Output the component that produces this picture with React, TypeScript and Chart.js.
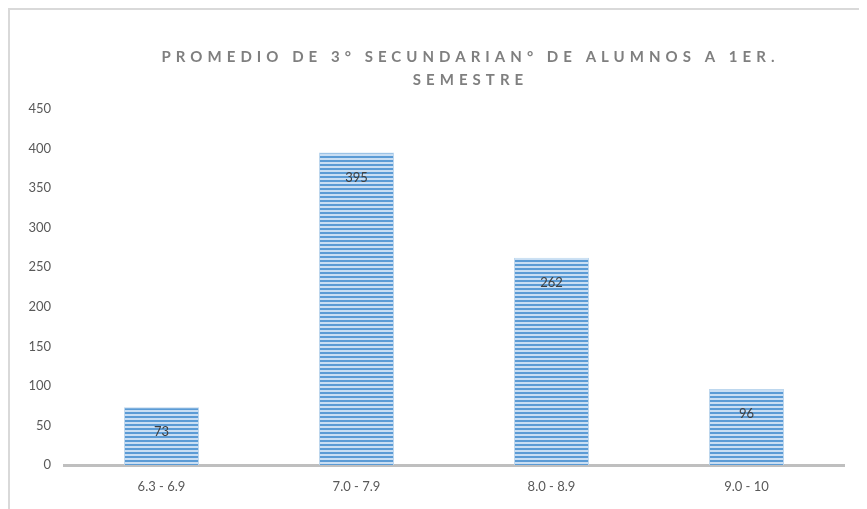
import React, { useEffect, useRef } from "react";
import { Chart, registerables } from "chart.js";

Chart.register(...registerables);

const categories = ["6.3 - 6.9", "7.0 - 7.9", "8.0 - 8.9", "9.0 - 10"];
const values = [73, 395, 262, 96];
const titleLines = ["PROMEDIO DE 3° SECUNDARIAN° DE ALUMNOS A 1ER.", "SEMESTRE"];
const yMax = 450;
const yStep = 50;

const FONT = "Lato, 'Open Sans', 'Liberation Sans', sans-serif";

function makePattern(): CanvasPattern | string {
  const c = document.createElement("canvas");
  c.width = 4;
  c.height = 4;
  const ctx = c.getContext("2d");
  if (!ctx) return "#5b9bd5";
  ctx.fillStyle = "#c9def3";
  ctx.fillRect(0, 0, 4, 4);
  ctx.fillStyle = "#5b9bd5";
  ctx.fillRect(0, 0, 4, 2);
  return ctx.createPattern(c, "repeat") || "#5b9bd5";
}

const framePlugin = {
  id: "frame",
  beforeDraw(chart: any) {
    const { ctx } = chart;
    ctx.save();
    ctx.fillStyle = "#d9d9d9";
    ctx.fillRect(0, 0, chart.width, 2);
    ctx.fillRect(0, 0, 2, chart.height);
    ctx.restore();
  },
};

const titlePlugin = {
  id: "spacedTitle",
  afterDraw(chart: any) {
    const { ctx } = chart;
    ctx.save();
    ctx.font = `bold 15px ${FONT}`;
    ctx.fillStyle = "#7f7f7f";
    ctx.textBaseline = "middle";
    ctx.textAlign = "left";
    const cx = (chart.chartArea.left + chart.chartArea.right) / 2 + 14;
    (ctx as any).letterSpacing = "0px";
    const first = titleLines[0];
    const w0 = ctx.measureText(first).width;
    const spacing = Math.max(0, (613 - w0) / (first.length - 1));
    (ctx as any).letterSpacing = `${spacing}px`;
    titleLines.forEach((line, i) => {
      const w = ctx.measureText(line).width - spacing;
      ctx.fillText(line, cx - w / 2, 49 + i * 23);
    });
    ctx.restore();
  },
};

const labelPlugin = {
  id: "barLabels",
  afterDatasetsDraw(chart: any) {
    const { ctx } = chart;
    const meta = chart.getDatasetMeta(0);
    ctx.save();
    ctx.font = `13px ${FONT}`;
    ctx.fillStyle = "#404040";
    ctx.textAlign = "center";
    ctx.textBaseline = "middle";
    meta.data.forEach((bar: any, i: number) => {
      ctx.fillText(String(values[i]), bar.x, bar.y + 25);
    });
    ctx.restore();
  },
};

export default function App() {
  const ref = useRef<HTMLCanvasElement>(null);
  useEffect(() => {
    if (!ref.current) return;
    const chart = new Chart(ref.current, {
      type: "bar",
      data: {
        labels: categories,
        datasets: [
          {
            data: values,
            backgroundColor: makePattern() as any,
            borderColor: "#bdd7ee",
            borderWidth: { left: 1, right: 1, top: 1, bottom: 0 } as any,
            borderSkipped: false,
            categoryPercentage: 1,
            barPercentage: 0.385,
          },
        ],
      },
      options: {
        responsive: false,
        animation: false,
        maintainAspectRatio: false,
        layout: { padding: { left: 0, right: 23, top: 101, bottom: 0 } },
        plugins: {
          legend: { display: false },
          tooltip: { enabled: false },
          title: { display: false },
        },
        scales: {
          x: {
            grid: { display: false, drawTicks: false },
            border: { display: true, color: "#bfbfbf", width: 3 },
            ticks: { color: "#595959", font: { family: FONT, size: 13 }, padding: 14 },
            afterFit: (s: any) => {
              s.height = 44;
            },
          },
          y: {
            min: 0,
            max: yMax,
            grid: { display: false, drawTicks: false },
            border: { display: false },
            ticks: {
              stepSize: yStep,
              color: "#595959",
              font: { family: FONT, size: 13 },
              padding: 13,
            },
            afterFit: (s: any) => {
              s.width = 56;
            },
          },
        },
      },
      plugins: [framePlugin, titlePlugin, labelPlugin],
    });
    return () => chart.destroy();
  }, []);
  return (
    <div style={{ width: 859, height: 501 }}>
      <canvas ref={ref} width={859} height={501} style={{ display: "block" }} />
    </div>
  );
}
